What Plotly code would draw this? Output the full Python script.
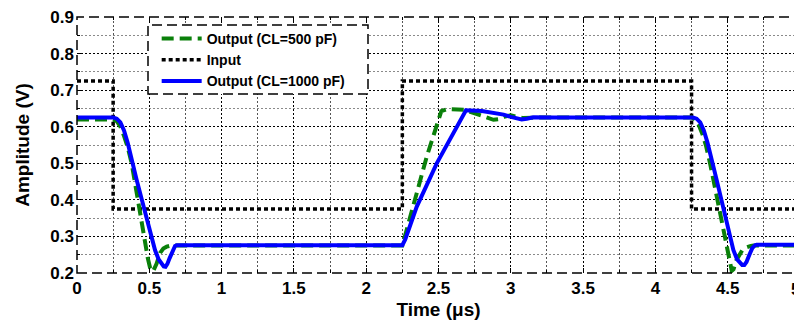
import plotly.graph_objects as go

# ---- data ----
input_t = [0, 0.25, 0.25, 2.25, 2.25, 4.25, 4.25, 4.98]
input_v = [0.725, 0.725, 0.375, 0.375, 0.725, 0.725, 0.375, 0.375]

out500_t = [0, 0.25, 0.275, 0.30, 0.325, 0.35, 0.378, 0.447, 0.49, 0.505, 0.517, 0.53, 0.55, 0.575, 0.597, 0.62, 0.65,
            2.25, 2.33, 2.42, 2.52, 2.56, 2.68, 2.74, 2.8, 2.88, 2.92, 2.96, 3.0, 3.04, 3.08, 3.2,
            4.25, 4.275, 4.30, 4.325, 4.35, 4.378, 4.458, 4.50, 4.515, 4.528, 4.54, 4.56, 4.6, 4.631, 4.66, 4.68, 5.0]
out500_v = [0.62, 0.62, 0.615, 0.6, 0.575, 0.545, 0.5, 0.336, 0.24, 0.215, 0.204, 0.208, 0.225, 0.255, 0.267, 0.272, 0.275,
            0.275, 0.39, 0.52, 0.643, 0.648, 0.646, 0.638, 0.628, 0.619, 0.621, 0.628, 0.631, 0.628, 0.624, 0.625,
            0.625, 0.62, 0.605, 0.58, 0.548, 0.5, 0.336, 0.25, 0.22, 0.206, 0.21, 0.235, 0.262, 0.27, 0.274, 0.275, 0.275]

out1000_t = [0, 0.25, 0.275, 0.30, 0.325, 0.35, 0.413, 0.493, 0.54, 0.565, 0.585, 0.6, 0.612, 0.625, 0.64, 0.66, 0.678, 0.69,
             2.25, 2.27, 2.349, 2.488, 2.69, 2.80, 2.90, 2.95, 3.0, 3.04, 3.075, 3.11, 3.156, 3.3,
             4.26, 4.285, 4.31, 4.335, 4.36, 4.424, 4.493, 4.539, 4.565, 4.585, 4.6, 4.615, 4.63, 4.65, 4.67, 4.689, 4.70, 5.0]
out1000_v = [0.625, 0.625, 0.622, 0.612, 0.59, 0.557, 0.454, 0.327, 0.262, 0.237, 0.223, 0.218, 0.217, 0.225, 0.24, 0.26, 0.274, 0.276,
             0.276, 0.292, 0.381, 0.5, 0.645, 0.643, 0.638, 0.633, 0.627, 0.622, 0.62, 0.622, 0.626, 0.625,
             0.625, 0.622, 0.612, 0.59, 0.557, 0.454, 0.336, 0.263, 0.237, 0.226, 0.222, 0.222, 0.23, 0.25, 0.268, 0.276, 0.277, 0.277]

x_ticks = [0, 0.5, 1, 1.5, 2, 2.5, 3, 3.5, 4, 4.5, 5]
x_ticktext = ["0", "0.5", "1", "1.5", "2", "2.5", "3", "3.5", "4", "4.5", "5"]
y_ticks = [0.2, 0.3, 0.4, 0.5, 0.6, 0.7, 0.8, 0.9]
y_ticktext = ["0.2", "0.3", "0.4", "0.5", "0.6", "0.7", "0.8", "0.9"]

FONT = "Liberation Sans, Arial, Helvetica, sans-serif"

fig = go.Figure()
fig.add_trace(go.Scatter(x=input_t, y=input_v, mode="lines", name="Input",
                         line=dict(color="black", width=3.5, dash="4px,3px"),
                         legendrank=2))
fig.add_trace(go.Scatter(x=out500_t, y=out500_v, mode="lines", name="Output (CL=500 pF)",
                         line=dict(color="#0a800a", width=4, dash="12px,6px"),
                         legendrank=1))
fig.add_trace(go.Scatter(x=out1000_t, y=out1000_v, mode="lines", name="Output (CL=1000 pF)",
                         line=dict(color="#0000ff", width=4),
                         legendrank=3))

# the last x tick label sits on the right page edge: draw it right-aligned so it stays visible
axis_ticktext = x_ticktext[:-1] + [""]

fig.update_xaxes(range=[0, 5], tickvals=x_ticks, ticktext=axis_ticktext, automargin=False,
                 showgrid=True, gridcolor="black", gridwidth=1, griddash="2px,2px",
                 minor=dict(dtick=0.25, tick0=0, showgrid=True, gridcolor="#555555",
                            griddash="2px,2px", gridwidth=1, ticks="inside", ticklen=3,
                            tickcolor="black"),
                 ticks="inside", ticklen=5, tickcolor="black", mirror="ticks",
                 zeroline=False, showline=False, ticklabelstandoff=3,
                 ticklabeloverflow="allow",
                 tickfont=dict(family=FONT, size=17, color="black", weight="bold"),
                 title=dict(text="Time (μs)", standoff=5,
                            font=dict(family=FONT, size=19, color="black", weight="bold")))
fig.update_yaxes(range=[0.2, 0.9], tickvals=y_ticks, ticktext=y_ticktext, automargin=False,
                 showgrid=True, gridcolor="black", gridwidth=1, griddash="2px,2px",
                 minor=dict(dtick=0.05, tick0=0.2, showgrid=True, gridcolor="#8a8a8a",
                            griddash="2px,2px", gridwidth=1, ticks="inside", ticklen=3,
                            tickcolor="black"),
                 ticks="inside", ticklen=5, tickcolor="black", mirror="ticks",
                 zeroline=False, showline=False, ticklabelstandoff=2,
                 ticklabeloverflow="allow",
                 tickfont=dict(family=FONT, size=17, color="black", weight="bold"),
                 title=dict(text="Amplitude (V)", standoff=15,
                            font=dict(family=FONT, size=19, color="black", weight="bold")))

fig.add_annotation(x=x_ticks[-1], xref="x", y=0, yref="paper", text=x_ticktext[-1],
                   showarrow=False, xanchor="right", yanchor="top", yshift=-5, xshift=2,
                   font=dict(family=FONT, size=17, color="black", weight="bold"))

# page has an 8px body margin, so the figure is drawn 8px in from the top-left
OFF = 8
L, T = 77 - OFF, 17 - OFF
PW, PH = 723, 256

# dashed axis box
fig.add_shape(type="rect", xref="paper", yref="paper", x0=0, y0=0, x1=1, y1=1,
              line=dict(color="black", width=1.5, dash="10px,5px"), layer="above")

# dashed legend box (white fill)
lx0, lx1 = (148 - 77) / PW, (368 - 77) / PW
ly1, ly0 = 1 - (25 - 17) / PH, 1 - (94 - 17) / PH
fig.add_shape(type="rect", xref="paper", yref="paper", x0=lx0, y0=ly0, x1=lx1, y1=ly1,
              line=dict(color="black", width=1.5, dash="10px,5px"),
              fillcolor="white", layer="above")

fig.update_layout(
    width=802 - OFF, height=324 - OFF,
    margin=dict(l=L, r=802 - OFF - L - PW, t=T, b=324 - OFF - T - PH),
    plot_bgcolor="white", paper_bgcolor="white",
    showlegend=True,
    legend=dict(x=lx0 + 0.012, y=ly1 + 0.008, xanchor="left", yanchor="top",
                bgcolor="rgba(0,0,0,0)", borderwidth=0,
                itemwidth=40, tracegroupgap=0,
                font=dict(family=FONT, size=14, color="black", weight="bold")),
)

fig.write_html("out.html")
